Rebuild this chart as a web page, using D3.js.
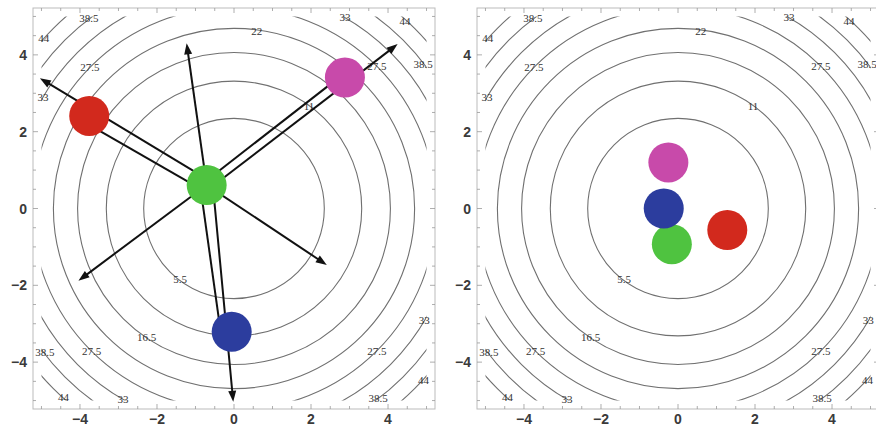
<!DOCTYPE html>
<html>
<head>
<meta charset="utf-8">
<script src="https://cdn.jsdelivr.net/npm/d3@7"></script>
<style>
  body { margin: 0; background: #fff; }
  svg { display: block; }
</style>
</head>
<body>
<script>
// contour levels of f(x,y) = x^2 + y^2
const levels = [5.5, 11, 16.5, 22, 27.5, 33, 38.5, 44];

// contour label anchors (same in both panels)
const labelText = ["44", "38.5", "33", "27.5", "22", "33", "44", "27.5", "38.5", "11",
                   "5.5", "16.5", "38.5", "27.5", "44", "33", "33", "27.5", "44", "38.5"];
const labelX = [-4.94, -3.77, -4.96, -3.74, 0.59, 2.88, 4.44, 3.71, 4.91, 1.95,
                -1.40, -2.27, -4.91, -3.70, -4.43, -2.88, 4.94, 3.71, 4.92, 3.74];
const labelY = [4.44, 4.96, 2.90, 3.69, 4.63, 4.98, 4.89, 3.71, 3.76, 2.67,
                -1.83, -3.34, -3.73, -3.70, -4.90, -4.97, -2.89, -3.70, -4.47, -4.94];

// points
const names = ["red", "magenta", "green", "blue"];
const leftX = [-3.76, 2.88, -0.71, -0.06];
const leftY = [2.41, 3.41, 0.61, -3.21];
const rightX = [1.28, -0.25, -0.16, -0.37];
const rightY = [-0.56, 1.20, -0.93, 0.00];
const colors = {red: "#d2291d", magenta: "#c84aaa", green: "#4fc340", blue: "#2c3d9e"};

// arrows / lines in the left panel (data coords)
const segX1 = [-0.71, -0.71, -0.71, -0.71, -0.55, -0.88, -0.71, -0.71, -0.71];
const segY1 = [0.77, 0.42, 0.46, 0.73, 0.61, 0.61, 0.61, 0.61, 0.61];
const segX2 = [-5.04, -3.76, 4.25, 2.88, -0.02, -0.39, -1.23, -4.04, 2.41];
const segY2 = [3.39, 2.18, 4.28, 3.53, -5.03, -2.90, 4.30, -1.88, -1.47];
const segHead = [true, false, true, false, true, false, true, true, true];

const majorTicks = [-4, -2, 0, 2, 4];
const minorTicks = d3.range(-5, 5.01, 0.5);

const W = 876, H = 428;
const svg = d3.select("body").append("svg").attr("width", W).attr("height", H);

const defs = svg.append("defs");

function panel(id, left, pts, withArrows) {
  const x = d3.scaleLinear().domain([-5.22, 5.22]).range([left, left + 402]);
  const y = d3.scaleLinear().domain([-5.22, 5.22]).range([409, 8]);
  const g = svg.append("g");

  // contour region is [-5,5]^2
  defs.append("clipPath").attr("id", "clip" + id)
    .append("rect")
    .attr("x", x(-5)).attr("y", y(5))
    .attr("width", x(5) - x(-5)).attr("height", y(-5) - y(5));

  g.append("g").attr("clip-path", "url(#clip" + id + ")")
    .selectAll("ellipse").data(levels).join("ellipse")
    .attr("cx", x(0)).attr("cy", y(0))
    .attr("rx", d => x(Math.sqrt(d)) - x(0))
    .attr("ry", d => y(0) - y(Math.sqrt(d)))
    .attr("fill", "none").attr("stroke", "#707070").attr("stroke-width", 1.1);

  g.append("g").selectAll("text").data(labelText).join("text")
    .attr("x", (d, i) => x(labelX[i]))
    .attr("y", (d, i) => y(labelY[i]))
    .attr("text-anchor", "middle").attr("dominant-baseline", "central")
    .attr("font-family", "'Liberation Serif', serif").attr("font-size", 11)
    .attr("fill", "#333").text(d => d);

  // frame
  g.append("rect")
    .attr("x", x(-5.22)).attr("y", y(5.22))
    .attr("width", x(5.22) - x(-5.22)).attr("height", y(-5.22) - y(5.22))
    .attr("fill", "none").attr("stroke", "#bbb").attr("stroke-width", 1);

  const tk = g.append("g").attr("stroke", "#999").attr("stroke-width", 0.8);
  const len = v => (majorTicks.includes(v) ? 5 : 3);
  minorTicks.forEach(v => {
    tk.append("line").attr("x1", x(v)).attr("x2", x(v)).attr("y1", y(-5.22)).attr("y2", y(-5.22) - len(v));
    tk.append("line").attr("x1", x(v)).attr("x2", x(v)).attr("y1", y(5.22)).attr("y2", y(5.22) + len(v));
    tk.append("line").attr("y1", y(v)).attr("y2", y(v)).attr("x1", x(-5.22)).attr("x2", x(-5.22) + len(v));
    tk.append("line").attr("y1", y(v)).attr("y2", y(v)).attr("x1", x(5.22)).attr("x2", x(5.22) - len(v));
  });

  const fmt = v => (v < 0 ? "\u2212" + Math.abs(v) : String(v));
  g.append("g").selectAll("text").data(majorTicks).join("text")
    .attr("x", d => x(d)).attr("y", 424)
    .attr("text-anchor", "middle")
    .attr("font-family", "'Liberation Sans', Arial, sans-serif").attr("font-size", 14)
    .attr("font-weight", "bold").attr("fill", "#3a3a3a").text(fmt);
  g.append("g").selectAll("text").data(majorTicks).join("text")
    .attr("x", x(-5.22) - 6).attr("y", d => y(d))
    .attr("text-anchor", "end").attr("dominant-baseline", "central")
    .attr("font-family", "'Liberation Sans', Arial, sans-serif").attr("font-size", 14)
    .attr("font-weight", "bold").attr("fill", "#3a3a3a").text(fmt);

  if (withArrows) {
    const ag = g.append("g");
    segX1.forEach((v, i) => {
      const ax = x(segX1[i]), ay = y(segY1[i]);
      const bx = x(segX2[i]), by = y(segY2[i]);
      const ang = Math.atan2(by - ay, bx - ax);
      const hl = 11, hw = 4;
      const ex = segHead[i] ? bx - Math.cos(ang) * (hl - 2) : bx;
      const ey = segHead[i] ? by - Math.sin(ang) * (hl - 2) : by;
      ag.append("line").attr("x1", ax).attr("y1", ay).attr("x2", ex).attr("y2", ey)
        .attr("stroke", "#111").attr("stroke-width", 2);
      if (segHead[i]) {
        const p = d3.path();
        p.moveTo(bx, by);
        p.lineTo(bx - Math.cos(ang) * hl - Math.sin(ang) * hw, by - Math.sin(ang) * hl + Math.cos(ang) * hw);
        p.lineTo(bx - Math.cos(ang) * hl + Math.sin(ang) * hw, by - Math.sin(ang) * hl - Math.cos(ang) * hw);
        p.closePath();
        ag.append("path").attr("d", p.toString()).attr("fill", "#111");
      }
    });
  }

  g.append("g").selectAll("circle").data(names).join("circle")
    .attr("cx", (d, i) => x(pts[0][i]))
    .attr("cy", (d, i) => y(pts[1][i]))
    .attr("r", 20)
    .attr("fill", d => colors[d]);
}

panel("L", 33, [leftX, leftY], true);
panel("R", 477, [rightX, rightY], false);
</script>
</body>
</html>
